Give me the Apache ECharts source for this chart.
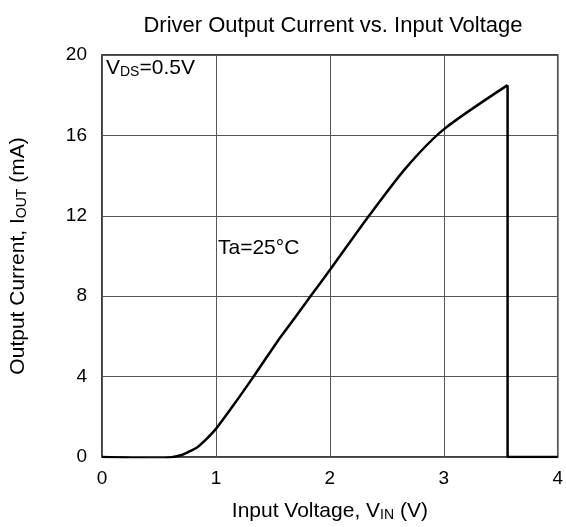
<!DOCTYPE html>
<html>
  <head>
    <meta charset="utf-8" />
    <title>Driver Output Current vs. Input Voltage</title>
    <script src="https://cdnjs.cloudflare.com/ajax/libs/echarts/6.0.0/echarts.min.js"></script>
  </head>
  <body>
    <style>
      html, body { margin: 0; padding: 0; background: #fff; }
      #main { width: 566px; height: 527px; }
    </style>
    <div id="main"></div>
    <script type="text/javascript">
      // values
      var vin  = [0, 0.25, 0.5, 0.6, 0.7, 0.76, 0.84, 0.9, 1.0, 1.15, 1.33, 1.54, 1.69, 1.83, 2.0, 2.35, 2.67, 3.0, 3.56];
      var iout = [0, -0.05, -0.08, -0.02, 0.1, 0.25, 0.5, 0.8, 1.4, 2.55, 4.0, 5.75, 6.9, 8.0, 9.3, 12.05, 14.4, 16.3, 18.5];
      // shutdown: current drops to zero above ~3.56 V
      var cutVin  = [3.56, 3.56, 4];
      var cutIout = [18.5, 0, 0];

      var xTicks = [0, 1, 2, 3, 4];
      var yTicks = [0, 4, 8, 12, 16, 20];

      var font = '"Liberation Sans", Arial, sans-serif';

      var chartDom = document.getElementById('main');
      var myChart = echarts.init(chartDom);

      function pairs(xs, ys) {
        return xs.map(function (x, i) { return [x, ys[i]]; });
      }

      // normal + subscript text styles
      function richText(size, sub, key) {
        var n = { fontFamily: font, fontSize: size, color: '#000' };
        var s = { fontFamily: font, fontSize: sub, color: '#000', verticalAlign: 'bottom', padding: [Math.round(size * 0.35), 0, 0, 0] };
        if (key === 'fill') { n.fill = '#000'; s.fill = '#000'; }
        return { n: n, s: s };
      }

      var option = {
        animation: false,
        title: {
          text: 'Driver Output Current vs. Input Voltage',
          left: 328,
          top: 10,
          textAlign: 'center',
          textStyle: { fontFamily: font, fontSize: 22, fontWeight: 'normal', color: '#000' }
        },
        grid: {
          left: 99, right: 8, top: 55, bottom: 69,
          show: true, borderColor: '#000', borderWidth: 1.5, backgroundColor: '#fff'
        },
        xAxis: {
          type: 'value',
          min: xTicks[0], max: xTicks[xTicks.length - 1], interval: 1,
          name: '{n|Input Voltage, V}{s|IN}{n| (V)}',
          nameLocation: 'middle',
          nameGap: 44,
          nameTextStyle: { rich: richText(21, 14) },
          axisLine: { show: false },
          axisTick: { show: false },
          axisLabel: { fontFamily: font, fontSize: 19, color: '#000', margin: 12 },
          splitLine: { show: true, lineStyle: { color: '#555', width: 1 } }
        },
        yAxis: {
          type: 'value',
          min: yTicks[0], max: yTicks[yTicks.length - 1], interval: 4,
          name: '{n|Output Current, I}{s|OUT}{n| (mA)}',
          nameLocation: 'middle',
          nameGap: 73,
          nameTextStyle: { rich: richText(21, 14) },
          axisLine: { show: false },
          axisTick: { show: false },
          axisLabel: { fontFamily: font, fontSize: 19, color: '#000', margin: 15 },
          splitLine: { show: true, lineStyle: { color: '#555', width: 1 } }
        },
        graphic: [
          {
            type: 'text', left: 106, top: 58,
            style: { text: '{n|V}{s|DS}{n|=0.5V}', rich: richText(21, 14, 'fill') }
          },
          {
            type: 'text', left: 218, top: 238,
            style: { text: 'Ta=25°C', fontFamily: font, fontSize: 21, fill: '#000' }
          }
        ],
        series: [
          {
            name: 'curve',
            type: 'line',
            data: pairs(vin, iout),
            smooth: 0.25,
            showSymbol: false,
            lineStyle: { color: '#000', width: 2.5 }
          },
          {
            name: 'cutoff',
            type: 'line',
            data: pairs(cutVin, cutIout),
            showSymbol: false,
            lineStyle: { color: '#000', width: 2.5 }
          }
        ]
      };

      myChart.setOption(option);
    </script>
  </body>
</html>
